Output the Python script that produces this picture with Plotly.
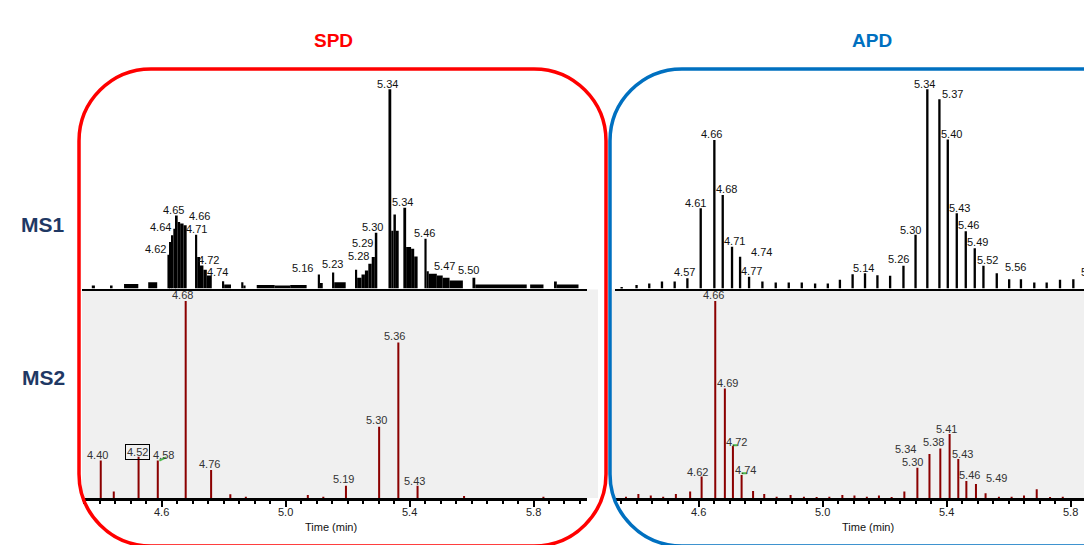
import plotly.graph_objects as go

W, H = 1084, 545

# ---------------- DATA ----------------
# SPD MS1 profile: segments (start time, end time, relative intensity %)
spd_ms1_start = [4.380, 4.441, 4.484, 4.562, 4.624, 4.632, 4.637, 4.643, 4.651, 4.657, 4.665, 4.676,
                 4.713, 4.720, 4.729, 4.740, 4.751, 4.800, 4.807, 4.862, 4.869, 4.912, 4.970, 5.020,
                 5.109, 5.116, 5.155, 5.162, 5.230, 5.236, 5.250, 5.261, 5.272, 5.283, 5.293,
                 5.337, 5.346, 5.353, 5.361, 5.385, 5.394, 5.410, 5.420, 5.453, 5.460, 5.467, 5.493,
                 5.512, 5.534, 5.608, 5.617, 5.794, 5.871, 5.880]
spd_ms1_end = [4.390, 4.447, 4.530, 4.591, 4.632, 4.637, 4.643, 4.651, 4.657, 4.665, 4.676, 4.686,
               4.720, 4.729, 4.740, 4.751, 4.767, 4.807, 4.829, 4.869, 4.876, 4.970, 5.020, 5.073,
               5.116, 5.125, 5.162, 5.199, 5.236, 5.250, 5.261, 5.272, 5.283, 5.293, 5.301,
               5.346, 5.353, 5.361, 5.370, 5.394, 5.410, 5.420, 5.431, 5.460, 5.467, 5.493, 5.512,
               5.534, 5.577, 5.617, 5.783, 5.837, 5.880, 5.950]
spd_ms1_int = [1.5, 1.5, 2.3, 3.2, 17.0, 23.3, 26.7, 30.0, 36.7, 33.4, 32.6, 31.7,
               27.0, 15.8, 11.6, 9.4, 6.5, 3.7, 2.0, 3.2, 1.5, 1.8, 1.5, 1.8,
               7.0, 2.7, 8.0, 3.2, 9.4, 5.4, 7.0, 9.0, 12.4, 15.8, 28.0,
               100.0, 29.0, 37.2, 29.0, 40.6, 20.8, 20.0, 16.1, 25.0, 8.7, 7.4, 6.5,
               5.4, 4.0, 5.4, 2.0, 2.0, 3.5, 2.0]

spd_ms1_lbl_text = ["4.62", "4.64", "4.65", "4.66", "4.71", "4.72", "4.74", "5.16", "5.23", "5.28",
                    "5.29", "5.30", "5.34", "5.34", "5.46", "5.47", "5.50"]
spd_ms1_lbl_t = [4.584, 4.600, 4.645, 4.729, 4.719, 4.758, 4.784, 5.061, 5.155, 5.239,
                 5.252, 5.287, 5.335, 5.381, 5.452, 5.519, 5.594]
spd_ms1_lbl_y = [19.8, 30.9, 39.4, 36.4, 29.9, 14.3, 8.3, 10.3, 12.3, 16.3,
                 22.8, 30.9, 102.7, 43.4, 27.9, 11.3, 9.3]

# APD MS1 centroid sticks
apd_ms1_t = [4.357, 4.405, 4.446, 4.487, 4.528, 4.569, 4.612, 4.656, 4.683, 4.713, 4.739, 4.768,
             4.811, 4.854, 4.896, 4.938, 4.981, 5.022, 5.061, 5.102, 5.142, 5.182, 5.223, 5.266,
             5.305, 5.343, 5.382, 5.409, 5.438, 5.467, 5.496, 5.524, 5.567, 5.607, 5.645, 5.688,
             5.728, 5.771, 5.814]
apd_ms1_int = [0.5, 1.8, 2.5, 3.5, 3.5, 5.2, 40.3, 74.5, 47.0, 21.0, 16.0, 5.9,
               3.5, 3.0, 3.0, 3.0, 2.5, 2.5, 4.4, 7.2, 7.6, 6.7, 6.4, 11.4,
               27.0, 100.0, 95.0, 74.8, 37.8, 28.7, 20.2, 11.4, 7.7, 4.7, 4.7, 3.0,
               3.0, 4.4, 4.7]

apd_ms1_lbl_text = ["4.57", "4.61", "4.66", "4.68", "4.71", "4.74", "4.77", "5.14", "5.26", "5.30",
                    "5.34", "5.37", "5.40", "5.43", "5.46", "5.49", "5.52", "5.56", "5.62"]
apd_ms1_lbl_t = [4.559, 4.596, 4.647, 4.694, 4.720, 4.809, 4.776, 5.136, 5.251, 5.289,
                 5.335, 5.425, 5.422, 5.448, 5.475, 5.505, 5.536, 5.626, 5.871]
apd_ms1_lbl_y = [8.4, 42.8, 77.6, 49.8, 23.8, 18.5, 8.9, 10.1, 14.7, 29.4,
                 102.7, 97.6, 77.6, 40.3, 31.9, 23.2, 14.3, 10.6, 8.4]

# SPD MS2 sticks
spd_ms2_t = [4.404, 4.446, 4.526, 4.588, 4.678, 4.760, 4.822, 4.872, 5.072, 5.122,
             5.195, 5.302, 5.364, 5.426, 5.576, 5.832]
spd_ms2_int = [19.1, 3.4, 21.1, 19.1, 100.0, 14.4, 2.0, 0.8, 1.7, 0.8,
               6.4, 36.3, 79.0, 6.3, 1.2, 0.8]

spd_ms2_lbl_text = ["4.40", "4.52", "4.58", "4.68", "4.76", "5.19", "5.30", "5.36", "5.43"]
spd_ms2_lbl_t = [4.393, 4.522, 4.606, 4.668, 4.754, 5.186, 5.294, 5.353, 5.415]
spd_ms2_lbl_y = [21.9, 23.3, 21.9, 103.0, 17.4, 9.6, 39.7, 82.4, 8.9]

# small green peak-apex marks (start t, end t, start y, end y)
spd_ms2_mark = [(4.593, 4.6145, 19.1, 20.8)]

# APD MS2 sticks
apd_ms2_t = [4.366, 4.406, 4.446, 4.486, 4.527, 4.573, 4.610, 4.654, 4.685, 4.711, 4.739, 4.776,
             4.812, 4.852, 4.897, 4.940, 4.981, 5.022, 5.064, 5.103, 5.143, 5.182, 5.223, 5.264,
             5.306, 5.345, 5.380, 5.410, 5.438, 5.464, 5.495, 5.526, 5.569, 5.610, 5.650, 5.691,
             5.734, 5.775]
apd_ms2_int = [0.8, 2.2, 1.4, 0.8, 2.2, 3.4, 11.0, 100.0, 55.7, 26.5, 11.8, 3.7,
               2.2, 0.8, 1.7, 0.8, 0.5, 0.8, 1.7, 1.4, 0.8, 1.4, 0.5, 3.4,
               15.5, 22.5, 25.3, 32.6, 19.9, 8.8, 7.3, 2.5, 0.8, 0.8, 1.4, 4.6,
               0.5, 0.8]

apd_ms2_lbl_text = ["4.62", "4.66", "4.69", "4.72", "4.74", "5.34", "5.30", "5.38", "5.41", "5.43",
                    "5.46", "5.49"]
apd_ms2_lbl_t = [4.596, 4.648, 4.693, 4.721, 4.750, 5.269, 5.290, 5.357, 5.401, 5.451,
                 5.473, 5.562]
apd_ms2_lbl_y = [13.5, 103.0, 58.3, 28.7, 14.3, 25.0, 18.2, 28.4, 35.1, 22.6,
                 11.8, 10.1]

apd_ms2_mark = [(4.710, 4.7255, 26.9, 26.9), (4.739, 4.7555, 12.7, 12.7)]

x_tick_vals = [4.6, 5.0, 5.4, 5.8]
x_tick_text = ["4.6", "5.0", "5.4", "5.8"]

# ---------------- FIGURE ----------------
def px(x):
    return x / W

def py(y):
    return 1 - y / H

PX_PER_MIN = 310.0
ms1_left_range = [4.3484, 5.9774]
ms2_left_range = [4.3435, 5.9726]
ms1_right_range = [4.3355, 5.8484]
ms2_right_range = [4.3306, 5.8435]

fig = go.Figure()

fig.add_trace(go.Bar(
    x=[(s + e) / 2 for s, e in zip(spd_ms1_start, spd_ms1_end)],
    width=[e - s for s, e in zip(spd_ms1_start, spd_ms1_end)],
    y=spd_ms1_int, marker=dict(color="black", line=dict(width=0)),
    xaxis="x", yaxis="y", showlegend=False, hoverinfo="skip"))

fig.add_trace(go.Bar(
    x=apd_ms1_t, y=apd_ms1_int, width=0.0075,
    marker=dict(color="black", line=dict(width=0)),
    xaxis="x3", yaxis="y3", showlegend=False, hoverinfo="skip"))

fig.add_trace(go.Bar(
    x=spd_ms2_t, y=spd_ms2_int, width=0.0065,
    marker=dict(color="#8B0000", line=dict(width=0)),
    xaxis="x2", yaxis="y2", showlegend=False, hoverinfo="skip"))
fig.add_trace(go.Bar(
    x=apd_ms2_t, y=apd_ms2_int, width=0.0065,
    marker=dict(color="#8B0000", line=dict(width=0)),
    xaxis="x4", yaxis="y4", showlegend=False, hoverinfo="skip"))

left_dom = [px(82), px(587)]
right_dom = [px(615), 1.0]
ms1_dom = [py(288.5), py(70)]
ms2_dom = [py(498.3), py(290)]

ms1_x = dict(showline=True, linecolor="black", linewidth=2, ticks="", showticklabels=False,
             showgrid=False, zeroline=False, fixedrange=True)
ms2_x = dict(showline=True, linecolor="black", linewidth=2.5, ticks="outside", ticklen=6,
             tickwidth=2, tickcolor="black", tickvals=x_tick_vals, showticklabels=False,
             minor=dict(dtick=0.05, tick0=4.6, ticks="outside", ticklen=3, tickwidth=2,
                        tickcolor="black", showgrid=False),
             showgrid=False, zeroline=False, fixedrange=True)
y_hidden = dict(visible=False, showgrid=False, zeroline=False, fixedrange=True)

fig.update_layout(
    width=W, height=H, autosize=False,
    margin=dict(l=0, r=0, t=0, b=0, pad=0),
    paper_bgcolor="white", plot_bgcolor="rgba(0,0,0,0)",
    barmode="overlay", showlegend=False,
    xaxis=dict(domain=left_dom, range=ms1_left_range, anchor="y", **ms1_x),
    yaxis=dict(domain=ms1_dom, range=[0, 109.7], anchor="x", **y_hidden),
    xaxis2=dict(domain=left_dom, range=ms2_left_range, anchor="y2", **ms2_x),
    yaxis2=dict(domain=ms2_dom, range=[0, 105.6], anchor="x2", **y_hidden),
    xaxis3=dict(domain=right_dom, range=ms1_right_range, anchor="y3", **ms1_x),
    yaxis3=dict(domain=ms1_dom, range=[0, 109.7], anchor="x3", **y_hidden),
    xaxis4=dict(domain=right_dom, range=ms2_right_range, anchor="y4", **ms2_x),
    yaxis4=dict(domain=ms2_dom, range=[0, 105.6], anchor="x4", **y_hidden),
)

shapes = [
    dict(type="rect", xref="paper", yref="paper", x0=px(82), x1=px(598), y0=py(498), y1=py(289.5),
         fillcolor="#f0f0f0", line=dict(width=0), layer="below"),
    dict(type="rect", xref="paper", yref="paper", x0=px(611), x1=1.0, y0=py(498), y1=py(289.5),
         fillcolor="#f0f0f0", line=dict(width=0), layer="below"),
]

for (t0, t1, y0, y1) in spd_ms2_mark:
    shapes.append(dict(type="line", xref="x2", yref="y2", x0=t0, x1=t1, y0=y0, y1=y1,
                       line=dict(color="#4CBB4C", width=2)))
for (t0, t1, y0, y1) in apd_ms2_mark:
    shapes.append(dict(type="line", xref="x4", yref="y4", x0=t0, x1=t1, y0=y0, y1=y1,
                       line=dict(color="#4CBB4C", width=2)))


def rrect(x0, y0, x1, y1, r):
    k = 0.5523 * r

    def P(x, y):
        return f"{x / W:.5f},{1 - y / H:.5f}"
    return (f"M {P(x0 + r, y0)} L {P(x1 - r, y0)} "
            f"C {P(x1 - r + k, y0)} {P(x1, y0 + r - k)} {P(x1, y0 + r)} "
            f"L {P(x1, y1 - r)} C {P(x1, y1 - r + k)} {P(x1 - r + k, y1)} {P(x1 - r, y1)} "
            f"L {P(x0 + r, y1)} C {P(x0 + r - k, y1)} {P(x0, y1 - r + k)} {P(x0, y1 - r)} "
            f"L {P(x0, y0 + r)} C {P(x0, y0 + r - k)} {P(x0 + r - k, y0)} {P(x0 + r, y0)} Z")


shapes.append(dict(type="path", xref="paper", yref="paper", path=rrect(79, 69, 606, 546, 72),
                   line=dict(color="#FF0000", width=3.5), layer="above"))
shapes.append(dict(type="path", xref="paper", yref="paper", path=rrect(610, 69, 1160, 546, 72),
                   line=dict(color="#0070C0", width=3.5), layer="above"))
fig.update_layout(shapes=shapes)

ann = []
C = dict(showarrow=False, xanchor="center", yanchor="middle")
lab_font = dict(family="Liberation Sans, Arial", size=11, color="#111")
ms2_font = dict(family="Liberation Sans, Arial", size=11, color="#333")


def add_labels(texts, ts, ys, xr, yr, rng, font, boxed=()):
    for txt, t, yv in zip(texts, ts, ys):
        # labels beyond the visible range are clamped to the edge and shifted in pixels
        tc = min(max(t, rng[0]), rng[1] - 1e-4)
        a = dict(text=txt, x=tc, y=yv, xref=xr, yref=yr, font=font,
                 xshift=(t - tc) * PX_PER_MIN, **C)
        if txt in boxed:
            a.update(bordercolor="black", borderwidth=1, borderpad=1)
        ann.append(a)


add_labels(spd_ms1_lbl_text, spd_ms1_lbl_t, spd_ms1_lbl_y, "x", "y", ms1_left_range, lab_font)
add_labels(apd_ms1_lbl_text, apd_ms1_lbl_t, apd_ms1_lbl_y, "x3", "y3", ms1_right_range, lab_font)
add_labels(spd_ms2_lbl_text, spd_ms2_lbl_t, spd_ms2_lbl_y, "x2", "y2", ms2_left_range, ms2_font,
           boxed=("4.52",))
add_labels(apd_ms2_lbl_text, apd_ms2_lbl_t, apd_ms2_lbl_y, "x4", "y4", ms2_right_range, ms2_font)

# Tick labels of the MS2 time axes
tick_font = dict(family="Liberation Sans, Arial", size=11, color="#222")
for xr in ("x2", "x4"):
    for v, txt in zip(x_tick_vals, x_tick_text):
        ann.append(dict(text=txt, x=v, y=py(512), xref=xr, yref="paper", font=tick_font, **C))

# Axis titles
for cx in (331, 868):
    ann.append(dict(text="Time (min)", x=px(cx), y=py(527), xref="paper", yref="paper",
                    font=dict(family="Liberation Sans, Arial", size=11, color="#111"), **C))

# Panel titles and row labels
ann.append(dict(text="<b>SPD</b>", x=px(333), y=py(41), xref="paper", yref="paper",
                font=dict(family="Liberation Sans, Arial", size=19, color="#FF0000"), **C))
ann.append(dict(text="<b>APD</b>", x=px(872), y=py(41), xref="paper", yref="paper",
                font=dict(family="Liberation Sans, Arial", size=19, color="#0070C0"), **C))
ann.append(dict(text="<b>MS1</b>", x=px(43), y=py(225), xref="paper", yref="paper",
                font=dict(family="Liberation Sans, Arial", size=21, color="#1F3864"), **C))
ann.append(dict(text="<b>MS2</b>", x=px(43), y=py(377), xref="paper", yref="paper",
                font=dict(family="Liberation Sans, Arial", size=21, color="#1F3864"), **C))

fig.update_layout(annotations=ann)

fig.write_html("out.html")
